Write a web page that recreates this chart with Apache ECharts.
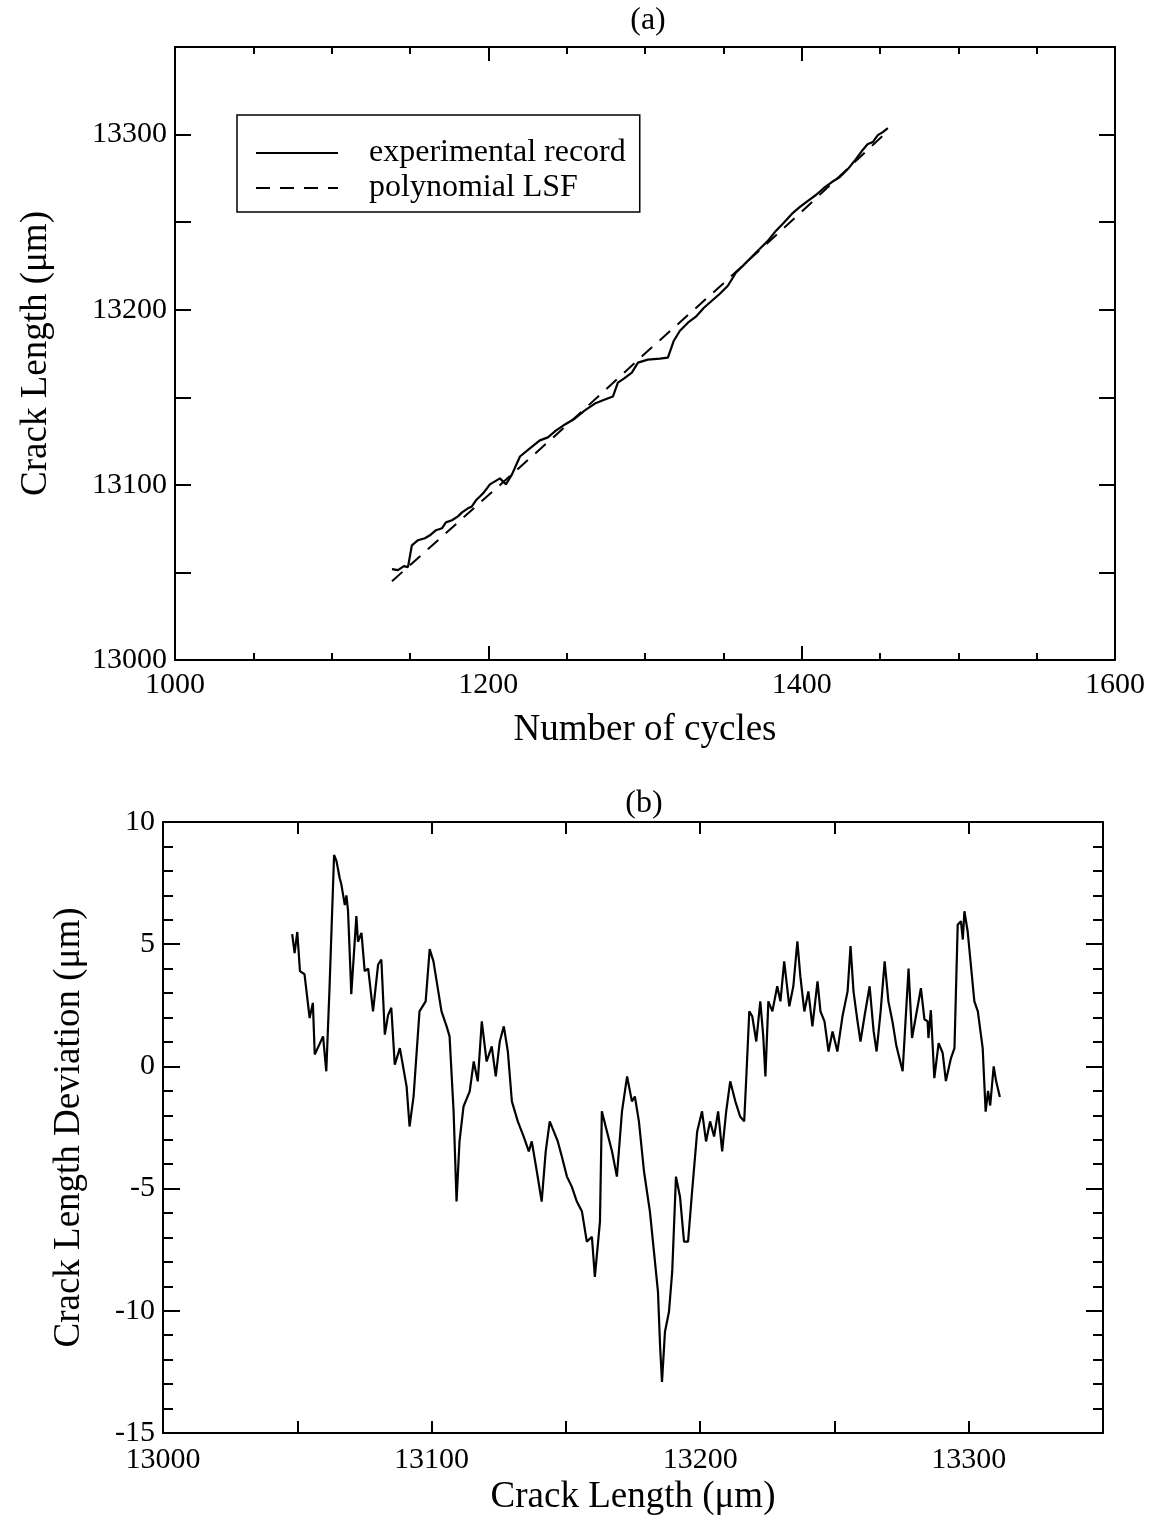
<!DOCTYPE html>
<html>
<head>
<meta charset="utf-8">
<script src="https://cdn.jsdelivr.net/npm/echarts@6/dist/echarts.min.js"></script>
<style>
html,body{margin:0;padding:0;background:#fff;}
#chart{width:1153px;height:1528px;}
</style>
</head>
<body>
<div id="chart"></div>
<script>
// ---- Panel (a): crack length vs number of cycles ----
const expCycles = [1138.5,1142.3,1146.1,1148.7,1151.2,1155.1,1159.5,1162.7,1166.6,1170.4,1172.9,1176.8,1180.6,1183.2,1187.0,1189.5,1192.1,1194.6,1197.2,1201.0,1207.4,1211.2,1215.1,1220.2,1226.5,1232.9,1238.0,1243.1,1248.9,1255.3,1261.6,1268.0,1274.4,1279.5,1282.7,1286.5,1291.6,1295.5,1301.8,1309.5,1314.6,1318.4,1322.3,1327.4,1332.5,1337.6,1342.7,1347.8,1352.9,1358.0,1363.1,1368.2,1373.3,1378.4,1383.5,1388.6,1393.7,1398.9,1404.0,1409.1,1414.2,1419.3,1424.4,1429.5,1434.6,1438.4,1442.2,1445.4,1448.6,1451.8,1455.0];
const expLength = [13051.9,13051.3,13053.6,13053.0,13065.5,13068.4,13069.5,13071.2,13074.1,13075.2,13078.6,13079.8,13082.0,13084.3,13086.6,13087.7,13091.2,13093.4,13095.7,13100.3,13103.7,13100.3,13106.0,13116.2,13120.8,13125.4,13127.1,13131.0,13134.5,13137.9,13142.5,13146.4,13148.7,13150.4,13158.4,13160.7,13164.1,13169.8,13171.5,13172.1,13172.6,13182.3,13188.0,13192.6,13196.0,13201.1,13205.1,13209.1,13213.7,13221.1,13225.6,13230.2,13234.8,13239.3,13245.0,13249.6,13254.7,13258.7,13262.1,13265.5,13269.5,13272.9,13275.8,13280.3,13286.0,13290.6,13294.6,13295.7,13299.7,13301.4,13303.7];
const fitCycles = [1138.5,1200,1250,1300,1350,1400,1455];
const fitLength = [13045,13094,13134,13175,13215,13256,13302];

// ---- Panel (b): deviation vs crack length ----
const devLength = [13048.1,13049.0,13050.0,13051.0,13052.7,13054.6,13055.8,13056.5,13059.6,13060.8,13062.0,13063.7,13064.6,13065.8,13066.4,13067.7,13068.3,13068.9,13069.9,13070.1,13072.0,13072.6,13073.9,13075.1,13076.4,13078.2,13080.1,13081.3,13082.6,13083.8,13085.0,13086.3,13088.2,
13090.7,13091.8,13093.3,13095.5,13097.8,13099.3,13100.7,13103.7,13105.6,13106.7,13108.2,13109.3,13110.4,13111.9,13114.2,13115.7,13117.2,13118.7,13120.5,13122.4,13123.9,13125.4,13126.9,13128.4,13129.9,13132.1,13134.3,13136.2,13137.3,13139.2,13141.0,13142.5,13144.0,13145.5,13147.0,13148.5,13150.4,13152.2,13154.1,13156.0,13157.8,13159.7,13160.8,13162.7,13163.4,13165.3,13167.2,13169.0,13170.9,13172.8,13174.6,13175.7,13177.2,13179.1,13181.3,13182.8,13184.3,13185.1,13185.8,13186.9,13188.4,13189.6,13191.0,13192.5,13194.0,13195.5,13197.0,13198.9,13200.7,13202.2,13203.7,13205.2,13206.7,13208.2,13209.7,13211.2,13213.1,13214.9,13216.4,13217.2,13218.3,13219.4,13220.9,13222.4,13223.5,13224.3,13225.4,13226.9,13228.7,13229.9,13231.3,13233.2,13234.7,13236.2,13237.3,13238.8,13240.3,13241.8,13243.7,13244.8,13246.3,13247.8,13249.3,13251.1,13253.0,13254.9,13256.0,13257.1,13258.6,13259.7,13261.2,13263.1,13264.6,13265.7,13267.2,13268.7,13270.1,13271.6,13273.1,
13275.4,13277.6,13278.9,13282.2,13283.5,13284.7,13285.0,13285.9,13287.2,13288.8,13290.3,13291.5,13293.4,13294.7,13295.9,13297.1,13297.8,13298.4,13299.6,13302.1,13303.4,13305.2,13306.3,13307.2,13308.0,13309.3,13310.2,13311.6];
const devValue = [5.41,4.64,5.5,3.9,3.77,1.98,2.6,0.49,1.23,-0.2,3.2,8.65,8.4,7.7,7.45,6.6,7.0,6.35,3.6,2.95,6.15,5.1,5.46,3.9,4.0,2.25,4.17,4.37,1.3,2.1,2.4,0.07,0.75,
-0.82,-2.46,-1.23,2.25,2.66,4.8,4.3,2.25,1.64,1.23,-1.84,-5.53,-3.07,-1.64,-1.02,0.2,-0.61,1.84,0.2,0.82,-0.41,1.02,1.64,0.61,-1.43,-2.25,-2.87,-3.48,-3.07,-4.3,-5.53,-3.48,-2.25,-2.66,-3.07,-3.69,-4.51,-4.92,-5.53,-5.94,-7.17,-6.97,-8.61,-6.35,-1.84,-2.66,-3.48,-4.51,-1.84,-0.41,-1.43,-1.23,-2.25,-4.3,-5.94,-7.58,-9.22,-11.48,-12.91,-10.86,-10.04,-8.4,-4.51,-5.33,-7.17,-7.17,-5.12,-2.66,-1.84,-3.07,-2.25,-2.87,-1.84,-3.48,-1.84,-0.61,-1.43,-2.05,-2.25,-0.41,2.25,2.05,1.02,2.66,1.23,-0.41,2.66,2.25,3.28,2.66,4.3,2.46,3.28,5.12,3.69,2.25,3.07,1.64,3.48,2.25,1.84,0.61,1.43,0.61,2.05,3.07,4.92,3.07,1.84,1.02,2.05,3.28,1.43,0.61,2.25,4.3,2.66,1.84,0.82,
-0.2,4.0,1.16,3.2,1.93,1.84,1.16,2.3,-0.48,0.95,0.55,-0.6,0.34,0.75,5.8,5.94,5.19,6.35,5.53,2.66,2.25,0.75,-1.85,-1.0,-1.6,0.0,-0.6,-1.25];

const FONT = 'Liberation Serif';
const zip = (a, b) => a.map((v, i) => [v, b[i]]);

const chart = echarts.init(document.getElementById('chart'), null, {renderer: 'canvas'});

const lineAxis = {show: true, onZero: false, lineStyle: {color: '#000', width: 2}};
const lbl = {color: '#000', fontFamily: FONT, fontSize: 30};
const nameStyle = {color: '#000', fontFamily: FONT, fontSize: 37};

function mirror(base) {
  return Object.assign({}, base, {
    name: '', axisLabel: {show: false}
  });
}

// panel (a) axes
const xA = {
  type: 'value', gridIndex: 0, min: 1000, max: 1600, interval: 200, position: 'bottom',
  axisLine: lineAxis,
  axisTick: {show: true, inside: true, length: 14, lineStyle: {color: '#000', width: 2}},
  minorTick: {show: true, splitNumber: 4, length: 7, lineStyle: {color: '#000', width: 2}},
  splitLine: {show: false},
  axisLabel: Object.assign({margin: 10, formatter: v => String(v)}, lbl),
  name: 'Number of cycles', nameLocation: 'middle', nameGap: 52, nameTextStyle: nameStyle
};
const yA = {
  type: 'value', gridIndex: 0, min: 13000, max: 13350, interval: 50, position: 'left',
  axisLine: lineAxis,
  axisTick: {show: true, inside: true, length: 16, lineStyle: {color: '#000', width: 2}},
  splitLine: {show: false},
  axisLabel: Object.assign({margin: 8, formatter: v => (v % 100 === 0 ? String(v) : '')}, lbl),
  name: 'Crack Length (\u03bcm)', nameLocation: 'middle', nameGap: 120, nameTextStyle: nameStyle
};
// panel (b) axes
const xB = {
  type: 'value', gridIndex: 1, min: 13000, max: 13350, interval: 50, position: 'bottom',
  axisLine: lineAxis,
  axisTick: {show: true, inside: true, length: 12, lineStyle: {color: '#000', width: 2}},
  splitLine: {show: false},
  axisLabel: Object.assign({margin: 12, formatter: v => (v % 100 === 0 ? String(v) : '')}, lbl),
  name: 'Crack Length (\u03bcm)', nameLocation: 'middle', nameGap: 46, nameTextStyle: nameStyle
};
const yB = {
  type: 'value', gridIndex: 1, min: -15, max: 10, interval: 5, position: 'left',
  axisLine: lineAxis,
  axisTick: {show: true, inside: true, length: 17, lineStyle: {color: '#000', width: 2}},
  minorTick: {show: true, splitNumber: 5, length: 10, lineStyle: {color: '#000', width: 2}},
  splitLine: {show: false}, minorSplitLine: {show: false},
  axisLabel: Object.assign({margin: 8}, lbl),
  name: 'Crack Length Deviation (\u03bcm)', nameLocation: 'middle', nameGap: 75, nameTextStyle: nameStyle
};

const option = {
  backgroundColor: '#fff',
  animation: false,
  title: [
    {text: '(a)', left: 643, top: 0, textAlign: 'center', textStyle: {color: '#000', fontFamily: FONT, fontSize: 32, fontWeight: 'normal'}},
    {text: '(b)', left: 639, top: 783, textAlign: 'center', textStyle: {color: '#000', fontFamily: FONT, fontSize: 32, fontWeight: 'normal'}}
  ],
  grid: [
    {left: 175, top: 47, width: 940, height: 613},
    {left: 163, top: 822, width: 940, height: 611}
  ],
  legend: {
    left: 237, top: 115, orient: 'vertical',
    data: ['experimental record', 'polynomial LSF'],
    backgroundColor: '#fff', borderColor: '#000', borderWidth: 1.5,
    padding: [22, 14, 8, 18], itemWidth: 82, itemHeight: 20, itemGap: 3,
    itemStyle: {opacity: 0, color: 'transparent', borderWidth: 0},
    textStyle: {color: '#000', fontFamily: FONT, fontSize: 32, padding: [0, 0, 0, 26]}
  },
  xAxis: [xA, Object.assign(mirror(xA), {position: 'top'}), xB, Object.assign(mirror(xB), {position: 'top'})],
  yAxis: [yA, Object.assign(mirror(yA), {position: 'right'}), yB, Object.assign(mirror(yB), {position: 'right'})],
  series: [
    {
      name: 'experimental record', type: 'line', xAxisIndex: 0, yAxisIndex: 0,
      data: zip(expCycles, expLength), symbol: 'none', showSymbol: false,
      lineStyle: {color: '#000', width: 2.2}, itemStyle: {color: '#000'}
    },
    {
      name: 'polynomial LSF', type: 'line', xAxisIndex: 0, yAxisIndex: 0,
      data: zip(fitCycles, fitLength), symbol: 'none', showSymbol: false,
      lineStyle: {color: '#000', width: 2, type: [14, 10]}, itemStyle: {color: '#000'}
    },
    {
      name: 'deviation', type: 'line', xAxisIndex: 2, yAxisIndex: 2,
      data: zip(devLength, devValue), symbol: 'none', showSymbol: false,
      lineStyle: {color: '#000', width: 2.2}, itemStyle: {color: '#000'}
    }
  ]
};
chart.setOption(option);
</script>
</body>
</html>
